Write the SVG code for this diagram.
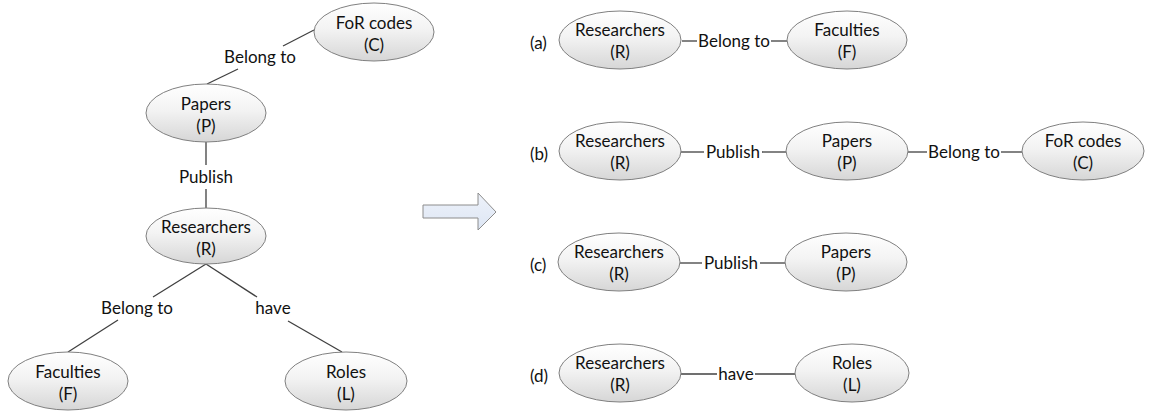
<svg xmlns="http://www.w3.org/2000/svg" width="1150" height="413" viewBox="0 0 1150 413">
  <defs>
    <linearGradient id="nodeFill" x1="0" y1="0" x2="0" y2="1">
      <stop offset="0" stop-color="#ffffff"/>
      <stop offset="0.45" stop-color="#f3f3f3"/>
      <stop offset="1" stop-color="#d6d6d6"/>
    </linearGradient>
    <linearGradient id="arrowFill" x1="0" y1="0" x2="0" y2="1">
      <stop offset="0" stop-color="#eef2fa"/>
      <stop offset="1" stop-color="#dde6f4"/>
    </linearGradient>
  </defs>
  <style>
    .node ellipse { fill: url(#nodeFill); stroke: #808080; stroke-width: 1; }
    text { font-family: Lato, "Liberation Sans", sans-serif; font-size: 17px; fill: #111111; }
    .nt { text-anchor: middle; }
    .el { text-anchor: middle; }
    .edges line { stroke: #404040; stroke-width: 1.3; }
  </style>
  <rect width="1150" height="413" fill="#ffffff"/>

  <!-- left tree: connectors -->
  <g id="tree-edges" class="edges">
    <line x1="207" y1="84" x2="238" y2="69"/>
    <line x1="283" y1="46" x2="314" y2="30"/>
    <line x1="206" y1="142" x2="206" y2="165"/>
    <line x1="206" y1="189" x2="206" y2="208"/>
    <line x1="206" y1="264" x2="153" y2="297"/>
    <line x1="118" y1="320" x2="68" y2="352"/>
    <line x1="206" y1="264" x2="257" y2="297"/>
    <line x1="288" y1="321" x2="342" y2="352"/>
  </g>
  <g id="tree-edge-labels">
    <text class="el" x="260" y="63">Belong to</text>
    <text class="el" x="206" y="183">Publish</text>
    <text class="el" x="137" y="314">Belong to</text>
    <text class="el" x="273" y="314">have</text>
  </g>

  <!-- left tree: nodes -->
  <g id="tree-for" class="node">
    <ellipse cx="374" cy="32" rx="60" ry="29"/>
    <text class="nt" x="374" y="29">FoR codes</text>
    <text class="nt" x="374" y="51">(C)</text>
  </g>
  <g id="tree-papers" class="node">
    <ellipse cx="206" cy="113" rx="60" ry="29"/>
    <text class="nt" x="206" y="110">Papers</text>
    <text class="nt" x="206" y="132">(P)</text>
  </g>
  <g id="tree-researchers" class="node">
    <ellipse cx="206" cy="236" rx="60" ry="28"/>
    <text class="nt" x="206" y="233">Researchers</text>
    <text class="nt" x="206" y="255">(R)</text>
  </g>
  <g id="tree-faculties" class="node">
    <ellipse cx="68" cy="381" rx="60" ry="29"/>
    <text class="nt" x="68" y="378">Faculties</text>
    <text class="nt" x="68" y="400">(F)</text>
  </g>
  <g id="tree-roles" class="node">
    <ellipse cx="346" cy="381" rx="61" ry="29"/>
    <text class="nt" x="346" y="378">Roles</text>
    <text class="nt" x="346" y="400">(L)</text>
  </g>

  <!-- block arrow -->
  <g id="transform-arrow">
    <polygon points="423,205 478,205 478,193 496,212 478,230 478,218 423,218" fill="url(#arrowFill)" stroke="#8c8c8c" stroke-width="1"/>
  </g>

  <!-- right panel: connectors -->
  <g id="path-edges" class="edges">
    <line x1="682" y1="41" x2="697" y2="41"/>
    <line x1="771" y1="41" x2="787" y2="41"/>
    <line x1="681" y1="152" x2="704" y2="152"/>
    <line x1="762" y1="152" x2="787" y2="152"/>
    <line x1="908" y1="152" x2="927" y2="152"/>
    <line x1="1001" y1="152" x2="1022" y2="152"/>
    <line x1="680" y1="263" x2="702" y2="263"/>
    <line x1="760" y1="263" x2="786" y2="263"/>
    <line x1="681" y1="374" x2="717" y2="374"/>
    <line x1="755" y1="374" x2="795" y2="374"/>
  </g>
  <g id="path-edge-labels">
    <text class="el" x="734" y="47">Belong to</text>
    <text class="el" x="733" y="158">Publish</text>
    <text class="el" x="964" y="158">Belong to</text>
    <text class="el" x="731" y="269">Publish</text>
    <text class="el" x="736" y="380">have</text>
  </g>
  <g id="path-tags">
    <text x="530" y="49">(a)</text>
    <text x="530" y="160">(b)</text>
    <text x="530" y="271">(c)</text>
    <text x="530" y="382">(d)</text>
  </g>

  <!-- (a) -->
  <g id="a-researchers" class="node">
    <ellipse cx="620" cy="40" rx="61" ry="29"/>
    <text class="nt" x="620" y="36">Researchers</text>
    <text class="nt" x="620" y="58">(R)</text>
  </g>
  <g id="a-faculties" class="node">
    <ellipse cx="847" cy="40" rx="60" ry="29"/>
    <text class="nt" x="847" y="36">Faculties</text>
    <text class="nt" x="847" y="58">(F)</text>
  </g>

  <!-- (b) -->
  <g id="b-researchers" class="node">
    <ellipse cx="620" cy="151" rx="61" ry="29"/>
    <text class="nt" x="620" y="147">Researchers</text>
    <text class="nt" x="620" y="169">(R)</text>
  </g>
  <g id="b-papers" class="node">
    <ellipse cx="847" cy="151" rx="61" ry="29"/>
    <text class="nt" x="847" y="147">Papers</text>
    <text class="nt" x="847" y="169">(P)</text>
  </g>
  <g id="b-for" class="node">
    <ellipse cx="1083" cy="151" rx="61" ry="29"/>
    <text class="nt" x="1083" y="147">FoR codes</text>
    <text class="nt" x="1083" y="169">(C)</text>
  </g>

  <!-- (c) -->
  <g id="c-researchers" class="node">
    <ellipse cx="619" cy="262" rx="61" ry="29"/>
    <text class="nt" x="619" y="258">Researchers</text>
    <text class="nt" x="619" y="280">(R)</text>
  </g>
  <g id="c-papers" class="node">
    <ellipse cx="846" cy="262" rx="61" ry="29"/>
    <text class="nt" x="846" y="258">Papers</text>
    <text class="nt" x="846" y="280">(P)</text>
  </g>

  <!-- (d) -->
  <g id="d-researchers" class="node">
    <ellipse cx="620" cy="373" rx="61" ry="29"/>
    <text class="nt" x="620" y="369">Researchers</text>
    <text class="nt" x="620" y="391">(R)</text>
  </g>
  <g id="d-roles" class="node">
    <ellipse cx="852" cy="373" rx="57" ry="29"/>
    <text class="nt" x="852" y="369">Roles</text>
    <text class="nt" x="852" y="391">(L)</text>
  </g>
</svg>
